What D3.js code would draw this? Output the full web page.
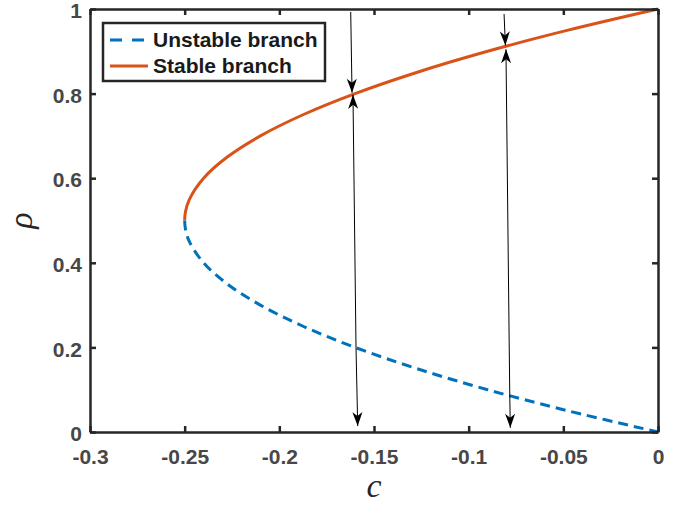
<!DOCTYPE html>
<html>
<head>
<meta charset="utf-8">
<script src="https://cdn.jsdelivr.net/npm/d3@7"></script>
<style>
body { margin: 0; background: #fff; }
.tick text { font-family: "Liberation Sans", Arial, sans-serif; font-weight: bold; font-size: 21px; fill: #474747; }
</style>
</head>
<body>
<div id="chart"></div>
<script>
// Data
const stableRho = [0.5, 0.52, 0.55, 0.6, 0.65, 0.7, 0.75, 0.8, 0.85, 0.9, 0.95, 1.0];
const stableC = [-0.25, -0.2496, -0.2475, -0.24, -0.2275, -0.21, -0.1875, -0.16, -0.1275, -0.09, -0.0475, 0];
const unstableRho = [0.5, 0.48, 0.45, 0.4, 0.35, 0.3, 0.25, 0.2, 0.15, 0.1, 0.05, 0];
const unstableC = [-0.25, -0.2496, -0.2475, -0.24, -0.2275, -0.21, -0.1875, -0.16, -0.1275, -0.09, -0.0475, 0];

// arrows: start (c, rho) -> tip (c, rho)
const arrowC0 = [-0.1623, -0.1595, -0.1595, -0.0813, -0.0783, -0.0783];
const arrowR0 = [0.993, 0.2, 0.2, 0.988, 0.088, 0.088];
const arrowC1 = [-0.1616, -0.1611, -0.1586, -0.0806, -0.0803, -0.0780];
const arrowR1 = [0.802, 0.797, 0.014, 0.914, 0.905, 0.010];

const xTickValues = [-0.3, -0.25, -0.2, -0.15, -0.1, -0.05, 0];
const xTickLabels = ["-0.3", "-0.25", "-0.2", "-0.15", "-0.1", "-0.05", "0"];
const yTickValues = [0, 0.2, 0.4, 0.6, 0.8, 1];
const yTickLabels = ["0", "0.2", "0.4", "0.6", "0.8", "1"];

const legendLabels = ["Unstable branch", "Stable branch"];
const colors = ["#0072BD", "#D95319"];

// Dimensions
const margin = { top: 9, right: 24, bottom: 76, left: 90 },
    width = 682 - margin.left - margin.right,
    height = 508 - margin.top - margin.bottom;

const svgRoot = d3.select("#chart")
    .append("svg")
    .attr("width", 682)
    .attr("height", 508);

const svg = svgRoot.append("g")
    .attr("transform", `translate(${margin.left}, ${margin.top})`);

const x = d3.scaleLinear().domain([-0.3, 0]).range([0, width]);
const y = d3.scaleLinear().domain([0, 1]).range([height, 0]);

// arrow head
svgRoot.append("defs").append("marker")
    .attr("id", "head")
    .attr("markerUnits", "userSpaceOnUse")
    .attr("viewBox", "-15 -6 16 12")
    .attr("refX", 0).attr("refY", 0)
    .attr("markerWidth", 16).attr("markerHeight", 12)
    .attr("orient", "auto")
    .append("path")
    .attr("d", "M0,0 L-14,-5 L-10,0 L-14,5 Z")
    .attr("fill", "#000");

// Curves
const line = d3.line()
    .x(d => x(d[0]))
    .y(d => y(d[1]))
    .curve(d3.curveCatmullRom.alpha(0.5));

svg.append("path")
    .datum(unstableC.map((c, i) => [c, unstableRho[i]]))
    .attr("d", line)
    .attr("fill", "none")
    .attr("stroke", colors[0])
    .attr("stroke-width", 3)
    .attr("stroke-dasharray", "10,6");

svg.append("path")
    .datum(stableC.map((c, i) => [c, stableRho[i]]))
    .attr("d", line)
    .attr("fill", "none")
    .attr("stroke", colors[1])
    .attr("stroke-width", 3);

// Arrows
svg.selectAll(".arrow")
    .data(arrowC0.map((c, i) => i))
    .enter().append("line")
    .attr("class", "arrow")
    .attr("x1", i => x(arrowC0[i]))
    .attr("y1", i => y(arrowR0[i]))
    .attr("x2", i => x(arrowC1[i]))
    .attr("y2", i => y(arrowR1[i]))
    .attr("stroke", "#000")
    .attr("stroke-width", 1)
    .attr("marker-end", "url(#head)");

// Axes (box with inward ticks)
function styleAxis(g) {
    g.select(".domain").attr("stroke", "#262626").attr("stroke-width", 2.5);
    g.selectAll(".tick line").attr("stroke", "#262626").attr("stroke-width", 2.5);
}

svg.append("g")
    .attr("transform", `translate(0, ${height})`)
    .call(d3.axisBottom(x).tickValues(xTickValues)
        .tickFormat((d, i) => xTickLabels[i])
        .tickSizeInner(-6).tickSizeOuter(0).tickPadding(17))
    .call(styleAxis);

svg.append("g")
    .call(d3.axisTop(x).tickValues(xTickValues).tickFormat("")
        .tickSizeInner(-6).tickSizeOuter(0))
    .call(styleAxis);

svg.append("g")
    .call(d3.axisLeft(y).tickValues(yTickValues)
        .tickFormat((d, i) => yTickLabels[i])
        .tickSizeInner(-6).tickSizeOuter(0).tickPadding(8))
    .call(styleAxis)
    .selectAll(".tick text").attr("dy", "0.41em");

svg.append("g")
    .attr("transform", `translate(${width}, 0)`)
    .call(d3.axisRight(y).tickValues(yTickValues).tickFormat("")
        .tickSizeInner(-6).tickSizeOuter(0))
    .call(styleAxis);

// Axis labels
svgRoot.append("text")
    .attr("x", margin.left + width / 2)
    .attr("y", 497)
    .attr("text-anchor", "middle")
    .style("font-family", "'Liberation Serif', 'DejaVu Serif', serif")
    .style("font-style", "italic")
    .style("font-size", "34px")
    .style("fill", "#262626")
    .text("c");

svgRoot.append("text")
    .attr("transform", `translate(32, ${margin.top + height / 2}) rotate(-90)`)
    .attr("text-anchor", "middle")
    .style("font-family", "'Liberation Serif', 'DejaVu Serif', serif")
    .style("font-style", "italic")
    .style("font-size", "34px")
    .style("fill", "#262626")
    .text("ρ");

// Legend
const legend = svgRoot.append("g").attr("transform", "translate(103, 23)");
legend.append("rect")
    .attr("width", 222).attr("height", 58)
    .attr("fill", "#fff")
    .attr("stroke", "#262626")
    .attr("stroke-width", 2.5);

legendLabels.forEach((label, i) => {
    const yy = 17 + i * 26;
    legend.append("line")
        .attr("x1", 7).attr("x2", 45)
        .attr("y1", yy).attr("y2", yy)
        .attr("stroke", colors[i])
        .attr("stroke-width", 3)
        .attr("stroke-dasharray", i === 0 ? "12,10" : null);
    legend.append("text")
        .attr("x", 50).attr("y", yy)
        .attr("dy", "0.35em")
        .style("font-family", "'Liberation Sans', Arial, sans-serif")
        .style("font-weight", "bold")
        .style("font-size", "21px")
        .style("fill", "#1a1a1a")
        .text(label);
});
</script>
</body>
</html>
